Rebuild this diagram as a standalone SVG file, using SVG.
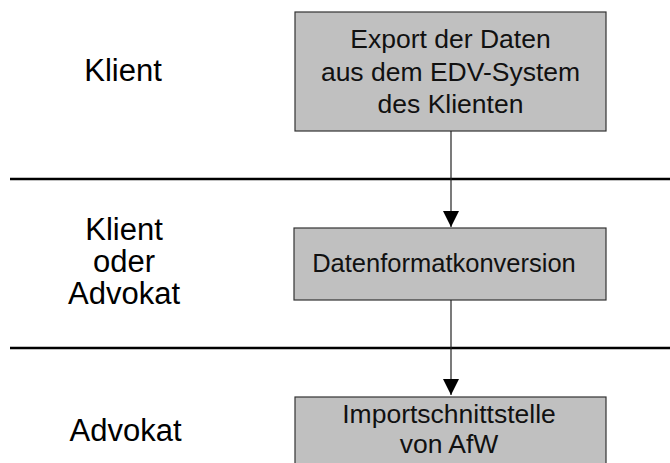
<svg xmlns="http://www.w3.org/2000/svg" width="670" height="463" viewBox="0 0 670 463">
  <defs>
    <style>
      .lane { font-family: "Liberation Sans", Arial, sans-serif; font-size: 31px; fill: #000; text-anchor: middle; }
      .box { fill: #c0c0c0; stroke: #333; stroke-width: 1.2; }
      .label { font-family: "Liberation Sans", Arial, sans-serif; font-size: 26.5px; fill: #111; text-anchor: middle; }
      .label.single { font-size: 25.5px; }
      .divider { stroke: #000; stroke-width: 2.6; }
      .flow { stroke: #222; stroke-width: 1.2; fill: none; marker-end: url(#arrow); }
    </style>
    <marker id="arrow" markerUnits="userSpaceOnUse" markerWidth="16" markerHeight="16" viewBox="0 0 14 14" refX="14" refY="7" orient="auto">
      <path d="M0,0 L14,7 L0,14 Z" fill="#000"/>
    </marker>
  </defs>

  <rect width="670" height="463" fill="#fff"/>

  <!-- swim-lane dividers -->
  <g id="lanes">
    <line class="divider" x1="10" y1="179" x2="670" y2="179"/>
    <line class="divider" x1="10" y1="348" x2="670" y2="348"/>
  </g>

  <!-- lane titles -->
  <g id="lane-klient">
    <text class="lane" x="123" y="81">Klient</text>
  </g>
  <g id="lane-klient-oder-advokat">
    <text class="lane" x="124" y="240">Klient</text>
    <text class="lane" x="124" y="272">oder</text>
    <text class="lane" x="124" y="304">Advokat</text>
  </g>
  <g id="lane-advokat">
    <text class="lane" x="125.5" y="441">Advokat</text>
  </g>

  <!-- process steps -->
  <g id="export">
    <rect class="box" x="295" y="12" width="311" height="119"/>
    <text class="label" x="450.5" y="48">Export der Daten</text>
    <text class="label" x="450.5" y="81">aus dem EDV-System</text>
    <text class="label" x="450.5" y="113">des Klienten</text>
  </g>
  <g id="konversion">
    <rect class="box" x="294" y="228" width="312" height="72"/>
    <text class="label single" x="444" y="272">Datenformatkonversion</text>
  </g>
  <g id="import">
    <rect class="box" x="295" y="397" width="311" height="80"/>
    <text class="label" x="449" y="423">Importschnittstelle</text>
    <text class="label" x="449" y="453">von AfW</text>
  </g>

  <!-- connectors -->
  <g id="connectors">
    <line class="flow" x1="451" y1="131" x2="451" y2="227"/>
    <line class="flow" x1="451" y1="300" x2="451" y2="395"/>
  </g>
</svg>
